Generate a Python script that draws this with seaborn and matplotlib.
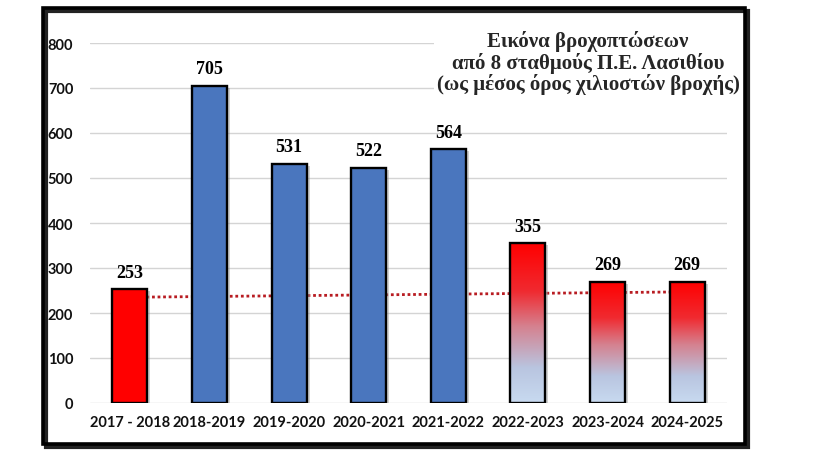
import numpy as np
import matplotlib
matplotlib.use("Agg")
import matplotlib.pyplot as plt
import matplotlib.transforms as mtransforms
from matplotlib.colors import LinearSegmentedColormap
from matplotlib.patches import Rectangle
import seaborn as sns

seasons = ["2017 - 2018", "2018-2019", "2019-2020", "2020-2021",
           "2021-2022", "2022-2023", "2023-2024", "2024-2025"]
rain = [253, 705, 531, 522, 564, 355, 269, 269]
style = ["red", "blue", "blue", "blue", "blue", "grad", "grad", "grad"]
trend_start, trend_end = 235, 247
yticks = [0, 100, 200, 300, 400, 500, 600, 700, 800]
title_lines = ["Εικόνα βροχοπτώσεων",
               "από 8 σταθμούς Π.Ε. Λασιθίου",
               "(ως μέσος όρος χιλιοστών βροχής)"]

fill = {"red": "#ff0000", "blue": "#4a76be", "grad": "#ff0000"}
grad_cmap = LinearSegmentedColormap.from_list(
    "rain_grad", [(0.0, "#c8daf0"), (0.22, "#b9c5e0"), (0.48, "#d5818f"),
                  (0.7, "#f02a30"), (1.0, "#ff0000")])

sns.set_theme(style="white")
fig = plt.figure(figsize=(8.21, 4.64), dpi=100)
ax = fig.add_axes([90 / 821, 1 - 404 / 464, 637 / 821, 360 / 464])

sns.barplot(x=seasons, y=rain, hue=seasons, palette=[fill[s] for s in style],
            legend=False, width=0.44, edgecolor="black", linewidth=1.7,
            saturation=1, ax=ax, zorder=2)

bars = sorted(ax.patches, key=lambda p: p.get_x())
shadow_tr = mtransforms.offset_copy(ax.transData, fig=fig, x=3, y=-2, units="dots")
grad = np.linspace(0, 1, 256).reshape(-1, 1)
for bar, kind, val in zip(bars, style, rain):
    x0, w, h = bar.get_x(), bar.get_width(), bar.get_height()
    ax.add_patch(Rectangle((x0, 0), w, h, transform=shadow_tr, facecolor="#9a9a9a",
                           alpha=0.45, edgecolor="none", zorder=1.5))
    if kind == "grad":
        bar.set_facecolor("none")
        ax.imshow(grad, extent=[x0, x0 + w, 0, h], origin="lower", aspect="auto",
                  cmap=grad_cmap, zorder=1.8)
    ax.text(x0 + w / 2, val + 38, str(val), ha="center", va="center",
            family="Liberation Serif", fontweight="bold", fontsize=13, color="black",
            zorder=4)

# trend line
ax.plot([0, len(seasons) - 1], [trend_start, trend_end], linestyle=(0, (1, 1)),
        color="#b81c22", linewidth=2, zorder=1.2)

ax.set_xlim(-0.5, len(seasons) - 0.5)
ax.set_ylim(0, 800)
ax.set_yticks(yticks)
ax.yaxis.grid(True, color="#d4d4d4", linewidth=1)
ax.set_axisbelow(True)
sns.despine(ax=ax, left=True, bottom=True, top=True, right=True)
ax.tick_params(axis="both", length=0)
ax.tick_params(axis="y", pad=12)
ax.tick_params(axis="x", pad=9)
for lab in ax.get_xticklabels() + ax.get_yticklabels():
    lab.set_family("Lato")
    lab.set_fontweight("bold")
    lab.set_fontsize(10.5)
    lab.set_color("#111111")
ax.set_xlabel("")
ax.set_ylabel("")

fig.text(588 / 821, 1 - 63 / 464, "\n".join(title_lines), ha="center", va="center",
         multialignment="center", family="Liberation Serif", fontweight="bold",
         fontsize=15, linespacing=1.05,
         bbox=dict(boxstyle="square,pad=0.12", facecolor="white", edgecolor="none"))

# outer frame with shadow
fw, fh = 821, 464
l, t, r, b = 43, 9, 745, 445
fig.add_artist(Rectangle(((l + 3) / fw, 1 - (b + 3) / fh), (r - l) / fw, (b - t) / fh,
                         transform=fig.transFigure, facecolor="none",
                         edgecolor="#222222", linewidth=3, zorder=9))
fig.add_artist(Rectangle((l / fw, 1 - b / fh), (r - l) / fw, (b - t) / fh,
                         transform=fig.transFigure, facecolor="none",
                         edgecolor="black", linewidth=2.6, zorder=10))

fig.savefig("out.png", dpi=100)
